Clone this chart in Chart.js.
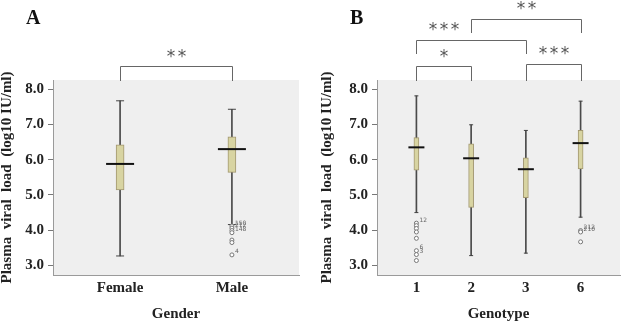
<!DOCTYPE html>
<html>
<head>
<meta charset="utf-8">
<script src="https://cdn.jsdelivr.net/npm/chart.js@4.4.0/dist/chart.umd.min.js"></script>
<style>
body { margin: 0; background: #fff; width: 630px; height: 326px; overflow: hidden; position: relative; }
canvas { position: absolute; top: 0; }
#chart-a { left: 0; }
#chart-b { left: 315px; }
</style>
</head>
<body>
<canvas id="chart-a" width="315" height="326"></canvas>
<canvas id="chart-b" width="315" height="326"></canvas>
<script>
// PANEL A - viral load by gender
const genderLabels = ["Female", "Male"];
const genderMin = [3.27, 4.16];
const genderQ1 = [5.14, 5.64];
const genderMedian = [5.88, 6.30];
const genderQ3 = [6.42, 6.65];
const genderMax = [7.67, 7.43];
const genderOutliers = [[], [4.12, 4.06, 3.99, 3.93, 3.72, 3.65, 3.30]];
const genderOutlierIds = [[], ["150", "212", "", "148", "", "", "4"]];
const genderSig = [["Female", "Male", "**"]];

// PANEL B - viral load by genotype
const genotypeLabels = ["1", "2", "3", "6"];
const genotypeMin = [4.50, 3.28, 3.35, 4.37];
const genotypeQ1 = [5.70, 4.65, 4.92, 5.74];
const genotypeMedian = [6.35, 6.04, 5.73, 6.47];
const genotypeQ3 = [6.63, 6.45, 6.05, 6.83];
const genotypeMax = [7.81, 6.99, 6.83, 7.66];
const genotypeOutliers = [[4.20, 4.13, 4.05, 3.95, 3.77, 3.42, 3.31, 3.14], [], [], [3.99, 3.95, 3.67]];
const genotypeOutlierIds = [["12", "", "", "", "", "6", "3", ""], [], [], ["212", "210", ""]];
const genotypeSig = [["1", "2", "*"], ["3", "6", "***"], ["1", "3", "***"], ["2", "6", "**"]];

const yTicks = [3, 4, 5, 6, 7, 8];
const yTitle = "Plasma  viral  load  (log10 IU/ml)";

const serif = "'Liberation Serif', 'Times New Roman', serif";
const boldFont = { family: serif, size: 15, weight: "bold", lineHeight: 1 };

// background, brackets, panel letter, outlier numbers
const panelPlugin = {
  id: "panel",
  beforeDraw(chart) {
    const { ctx, chartArea: a } = chart;
    ctx.save();
    ctx.fillStyle = "#efefef";
    ctx.fillRect(a.left, a.top, a.right - a.left, a.bottom - a.top);
    ctx.restore();
  },
  afterDraw(chart, args, opts) {
    const { ctx } = chart;
    const xs = chart.scales.x;
    const ys = chart.scales.y;
    ctx.save();

    // outlier case numbers
    ctx.fillStyle = "#666";
    ctx.font = "6px 'DejaVu Sans', sans-serif";
    ctx.textBaseline = "middle";
    opts.outliers.forEach((list, i) => {
      list.forEach((v, j) => {
        const id = opts.ids[i][j];
        if (!id) return;
        ctx.fillText(id, xs.getPixelForValue(i + 1) + 3, ys.getPixelForValue(v) - 3);
      });
    });

    // significance brackets
    ctx.strokeStyle = "#666";
    ctx.lineWidth = 1;
    ctx.fillStyle = "#555";
    ctx.font = "17px 'DejaVu Sans', sans-serif";
    ctx.textAlign = "center";
    ctx.textBaseline = "middle";
    opts.sig.forEach((s, k) => {
      const lv = opts.levels[k];
      const x1 = Math.round(xs.getPixelForValue(opts.labels.indexOf(s[0]) + 1)) + 0.5;
      const x2 = Math.round(xs.getPixelForValue(opts.labels.indexOf(s[1]) + 1)) + 0.5;
      ctx.beginPath();
      ctx.moveTo(x1, lv.legs);
      ctx.lineTo(x1, lv.top + 0.5);
      ctx.lineTo(x2, lv.top + 0.5);
      ctx.lineTo(x2, lv.legs);
      ctx.stroke();
      const cx = x1 + (x2 - x1) * lv.at;
      const n = s[2].length;
      for (let m = 0; m < n; m++) {
        ctx.fillText("*", cx + (m - (n - 1) / 2) * 11, lv.text);
      }
    });

    // panel letter
    ctx.fillStyle = "#111";
    ctx.font = "bold 20px " + serif;
    ctx.textAlign = "left";
    ctx.textBaseline = "alphabetic";
    ctx.fillText(opts.letter, opts.letterX, 24);
    ctx.restore();
  }
};

function boxChart(id, labels, mins, q1s, medians, q3s, maxs, outliers, ids, sig, look) {
  const xs = labels.map((l, i) => i + 1);
  const datasets = [
    {
      type: "bar",
      data: xs.map((x, i) => ({ x: x, y: [mins[i], maxs[i]] })),
      barThickness: 1,
      backgroundColor: "#4a4a4a",
      grouped: false,
      order: 5
    },
    {
      type: "bar",
      data: xs.map((x, i) => ({ x: x, y: [q1s[i], q3s[i]] })),
      barThickness: look.box,
      backgroundColor: "#d8d4a2",
      borderColor: "#a29770",
      borderWidth: 1,
      borderSkipped: false,
      grouped: false,
      order: 4
    },
    {
      type: "scatter",
      data: xs.flatMap((x, i) => [{ x: x, y: mins[i] }, { x: x, y: maxs[i] }]),
      pointStyle: "line",
      pointRadius: look.cap,
      borderColor: "#444",
      borderWidth: 1,
      order: 3
    },
    {
      type: "scatter",
      data: xs.map((x, i) => ({ x: x, y: medians[i] })),
      pointStyle: "line",
      pointRadius: look.median,
      borderColor: "#111",
      borderWidth: 2,
      order: 2
    },
    {
      type: "scatter",
      data: xs.flatMap((x, i) => outliers[i].map(v => ({ x: x, y: v }))),
      pointStyle: "circle",
      pointRadius: 2,
      backgroundColor: "#fff",
      borderColor: "#777",
      borderWidth: 1,
      order: 1
    }
  ];

  return new Chart(document.querySelector(id), {
    type: "bar",
    data: { datasets: datasets },
    options: {
      responsive: false,
      animation: false,
      events: [],
      layout: { padding: { top: 80, right: look.padRight, left: 0, bottom: 0 } },
      plugins: {
        legend: { display: false },
        tooltip: { enabled: false },
        panel: {
          labels: labels, outliers: outliers, ids: ids, sig: sig,
          levels: look.levels, letter: look.letter, letterX: look.letterX
        }
      },
      scales: {
        x: {
          type: "linear",
          min: look.xMin,
          max: look.xMax,
          offset: false,
          afterBuildTicks: s => { s.ticks = xs.map(v => ({ value: v })); },
          afterFit: s => { s.height = 51; },
          ticks: {
            callback: (v, i) => labels[i],
            font: boldFont,
            color: "#222",
            padding: -2,
            maxRotation: 0,
            autoSkip: false
          },
          grid: { display: false },
          border: { color: "#9a9a9a" },
          title: { display: true, text: look.xTitle, font: boldFont, color: "#222", padding: { bottom: 4 } }
        },
        y: {
          min: 2.73,
          max: 8.26,
          afterBuildTicks: s => { s.ticks = yTicks.map(v => ({ value: v })); },
          afterFit: s => { s.width = look.yWidth; },
          ticks: {
            callback: v => v.toFixed(1),
            font: boldFont,
            color: "#222",
            padding: 4
          },
          grid: { drawOnChartArea: false, tickLength: 5, color: "#777" },
          border: { color: "#9a9a9a" },
          title: { display: true, text: yTitle, font: boldFont, color: "#222", padding: { top: look.titlePad } }
        }
      }
    },
    plugins: [panelPlugin]
  });
}

const genderChart = boxChart("#chart-a", genderLabels, genderMin, genderQ1, genderMedian, genderQ3, genderMax,
  genderOutliers, genderOutlierIds, genderSig, {
    box: 8, cap: 4, median: 14, xMin: 0.4, xMax: 2.6, yWidth: 53, padRight: 12, titlePad: 0,
    xTitle: "Gender", letter: "A", letterX: 26,
    levels: [{ top: 66, legs: 81, text: 58, at: 0.5 }]
  });

const genotypeChart = boxChart("#chart-b", genotypeLabels, genotypeMin, genotypeQ1, genotypeMedian, genotypeQ3, genotypeMax,
  genotypeOutliers, genotypeOutlierIds, genotypeSig, {
    box: 5, cap: 2, median: 8, xMin: 0.28, xMax: 4.72, yWidth: 62, padRight: 3, titlePad: 5,
    xTitle: "Genotype", letter: "B", letterX: 35,
    levels: [
      { top: 66, legs: 81, text: 58, at: 0.5 },
      { top: 64, legs: 81, text: 55, at: 0.5 },
      { top: 40, legs: 54, text: 31, at: 0.25 },
      { top: 19, legs: 33, text: 10, at: 0.5 }
    ]
  });
</script>
</body>
</html>
